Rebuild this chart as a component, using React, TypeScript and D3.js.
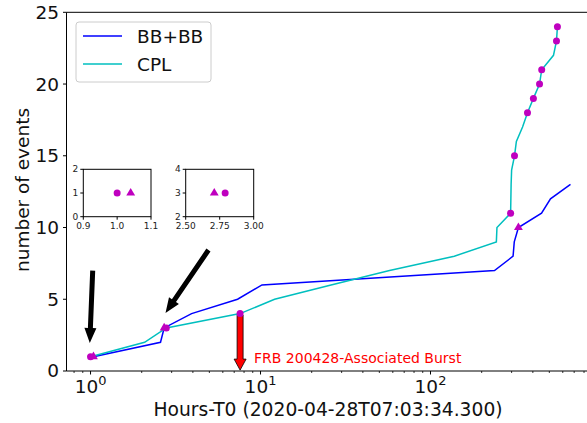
import * as d3 from "d3";

// cumulative event counts vs hours since T0
const bbTimes = [1.04, 2.58, 2.71, 3.93, 7.33, 10.2, 238, 306, 311, 329, 450, 508, 666];
const bbCounts = [1, 2, 3, 4, 5, 6, 7, 8, 9, 10, 11, 12, 13];
const cplTimes = [1.0, 2.08, 2.79, 7.58, 12.1, 26, 57.4, 138, 244, 246, 296, 297, 298, 300, 312, 320, 348, 372, 403, 438, 451, 529, 551, 558];
const cplCounts = [1, 2, 3, 4, 5, 6, 7, 8, 9, 10, 11, 12, 13, 14, 15, 16, 17, 18, 19, 20, 21, 22, 23, 24];

// which points carry markers (index into the series)
const bbMarked = [0, 2, 9];
const cplMarked = [0, 2, 3, 10, 14, 17, 18, 19, 20, 22, 23];

const yTicks = [0, 5, 10, 15, 20, 25];
const majorExp = [0, 1, 2];

// annotation arrows [from, to] in data coords
const blackArrows = [
  [[1.03, 7.0], [0.99, 1.95]],
  [[4.94, 8.43], [2.76, 4.04]],
];
const frbArrow = [[7.58, 3.9], [7.58, 0.06]];
const frbLabel = "FRB 200428-Associated Burst";

const inset1 = { xDomain: [0.9, 1.1], yDomain: [0, 2], xTicks: ["0.9", "1.0", "1.1"], yTicks: [0, 1, 2] };
const inset2 = { xDomain: [2.5, 3.0], yDomain: [2, 4], xTicks: ["2.50", "2.75", "3.00"], yTicks: [2, 3, 4] };

const FONT = "DejaVu Sans, sans-serif";
const MAG = "#bf00bf";

function arrowPath(x0: number, y0: number, x1: number, y1: number, shaft: number, headW: number, headL: number) {
  const dx = x1 - x0;
  const dy = y1 - y0;
  const len = Math.hypot(dx, dy);
  const ux = dx / len;
  const uy = dy / len;
  const nx = -uy;
  const ny = ux;
  const bx = x1 - ux * headL;
  const by = y1 - uy * headL;
  const p = (a: number, b: number) => `${a.toFixed(1)},${b.toFixed(1)}`;
  return (
    "M" + p(x0 + nx * shaft / 2, y0 + ny * shaft / 2) +
    "L" + p(bx + nx * shaft / 2, by + ny * shaft / 2) +
    "L" + p(bx + nx * headW / 2, by + ny * headW / 2) +
    "L" + p(x1, y1) +
    "L" + p(bx - nx * headW / 2, by - ny * headW / 2) +
    "L" + p(bx - nx * shaft / 2, by - ny * shaft / 2) +
    "L" + p(x0 - nx * shaft / 2, y0 - ny * shaft / 2) + "Z"
  );
}

const tri = d3.symbol().type(d3.symbolTriangle).size(34)();

function Inset({ cfg, left, right, top, bottom, circleT, circleN, triT, triN }: any) {
  const ix = d3.scaleLinear().domain(cfg.xDomain).range([left, right]);
  const iy = d3.scaleLinear().domain(cfg.yDomain).range([bottom, top]);
  return (
    <g fontFamily={FONT} fontSize={9}>
      <rect x={left} y={top} width={right - left} height={bottom - top} fill="white" stroke="black" strokeWidth={1} />
      {cfg.xTicks.map((t: string) => (
        <g key={t}>
          <line x1={ix(+t)} x2={ix(+t)} y1={bottom} y2={bottom + 3} stroke="black" />
          <text x={ix(+t)} y={bottom + 12} textAnchor="middle" fill="#222">{t}</text>
        </g>
      ))}
      {cfg.yTicks.map((t: number) => (
        <g key={t}>
          <line x1={left - 3} x2={left} y1={iy(t)} y2={iy(t)} stroke="black" />
          <text x={left - 5} y={iy(t)} dy="0.35em" textAnchor="end" fill="#222">{t}</text>
        </g>
      ))}
      <circle cx={ix(circleT)} cy={iy(circleN)} r={3.5} fill={MAG} />
      <path d={tri} transform={`translate(${ix(triT)},${iy(triN)})`} fill={MAG} />
    </g>
  );
}

export default function App() {
  const W = 587;
  const H = 423;
  const x = d3.scaleLog().domain([0.722, 833]).range([66.5, 587]);
  const y = d3.scaleLinear().domain([0, 25]).range([371, 12.3]);

  const bbPts = bbTimes.map((t, i) => [t, bbCounts[i]] as [number, number]);
  const cplPts = cplTimes.map((t, i) => [t, cplCounts[i]] as [number, number]);
  const line = d3.line<[number, number]>().x((d) => x(d[0])).y((d) => y(d[1]));

  const minor = x.ticks().filter((t) => Math.abs(Math.log10(t) - Math.round(Math.log10(t))) > 1e-6);

  return (
    <svg width={W} height={H} style={{ position: "absolute", left: 0, top: 0 }} fontFamily={FONT}>
      <rect width={W} height={H} fill="white" />

      {/* spines */}
      <line x1={66.5} x2={W} y1={12.3} y2={12.3} stroke="black" strokeWidth={1} />
      <line x1={66.5} x2={W} y1={371} y2={371} stroke="black" strokeWidth={1} />
      <line x1={66.5} x2={66.5} y1={12.3} y2={371} stroke="black" strokeWidth={1} />

      {/* y axis */}
      {yTicks.map((t) => (
        <g key={t}>
          <line x1={63} x2={66.5} y1={y(t)} y2={y(t)} stroke="black" />
          <text x={59} y={y(t)} dy="0.35em" textAnchor="end" fontSize={18.5} fill="#111">{t}</text>
        </g>
      ))}
      <text transform="translate(29,190) rotate(-90)" textAnchor="middle" fontSize={18.5} fill="#111">number of events</text>

      {/* x axis */}
      {minor.map((t) => (
        <line key={t} x1={x(t)} x2={x(t)} y1={371} y2={373} stroke="black" strokeWidth={0.8} />
      ))}
      {majorExp.map((e) => (
        <g key={e}>
          <line x1={x(10 ** e)} x2={x(10 ** e)} y1={371} y2={374.5} stroke="black" />
          <text x={x(10 ** e)} y={393} textAnchor="middle" fontSize={18.5} fill="#111">
            <tspan>10</tspan>
            <tspan dy={-8} fontSize={13}>{e}</tspan>
          </text>
        </g>
      ))}
      <text x={328} y={416} textAnchor="middle" fontSize={18.7} fill="#111">Hours-T0 (2020-04-28T07:03:34.300)</text>

      {/* series */}
      <path d={line(bbPts) ?? ""} fill="none" stroke="#0000ff" strokeWidth={1.5} />
      <path d={line(cplPts) ?? ""} fill="none" stroke="#00bfbf" strokeWidth={1.5} />

      {/* FRB arrow */}
      <path
        d={arrowPath(x(frbArrow[0][0]), y(frbArrow[0][1]), x(frbArrow[1][0]), y(frbArrow[1][1]), 6, 12, 11)}
        fill="#ff0000"
        stroke="black"
        strokeWidth={0.8}
      />
      <text x={254} y={363} fontSize={14} fill="#ff0000">{frbLabel}</text>

      {/* markers */}
      {cplMarked.map((i) => (
        <circle key={"c" + i} cx={x(cplTimes[i])} cy={y(cplCounts[i])} r={3.5} fill={MAG} />
      ))}
      {bbMarked.map((i) => (
        <path key={"b" + i} d={tri} transform={`translate(${x(bbTimes[i])},${y(bbCounts[i])})`} fill={MAG} />
      ))}

      {/* black pointer arrows */}
      {blackArrows.map((a, i) => (
        <path key={i} d={arrowPath(x(a[0][0]), y(a[0][1]), x(a[1][0]), y(a[1][1]), 5, 12, 15)} fill="black" />
      ))}

      {/* insets */}
      <Inset cfg={inset1} left={83.3} right={151} top={169.3} bottom={216.7}
        circleT={cplTimes[0]} circleN={cplCounts[0]} triT={bbTimes[0]} triN={bbCounts[0]} />
      <Inset cfg={inset2} left={185.7} right={253.7} top={169.3} bottom={216.7}
        circleT={cplTimes[2]} circleN={cplCounts[2]} triT={bbTimes[2]} triN={bbCounts[2]} />

      {/* legend */}
      <rect x={76} y={22} width={135} height={60} rx={3} fill="white" fillOpacity={0.8} stroke="#cccccc" />
      <line x1={83} x2={122} y1={36} y2={36} stroke="#0000ff" strokeWidth={1.5} />
      <text x={137} y={43} fontSize={18.5} fill="#111">BB+BB</text>
      <line x1={83} x2={122} y1={64} y2={64} stroke="#00bfbf" strokeWidth={1.5} />
      <text x={137} y={71} fontSize={18.5} fill="#111">CPL</text>
    </svg>
  );
}
